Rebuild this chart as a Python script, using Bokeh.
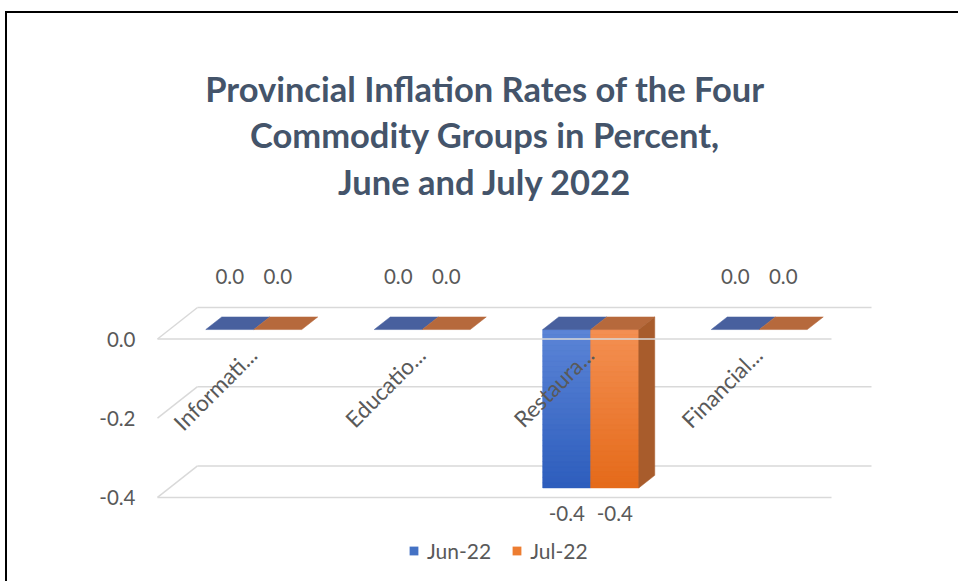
import numpy as np
from bokeh.plotting import figure
from bokeh.models import (Range1d, FixedTicker, PrintfTickFormatter, Legend,
                          LegendItem)
from bokeh.core.properties import value
from bokeh.embed import file_html
from bokeh.resources import INLINE

# ---------------- data ----------------
categories = ["Informati...", "Educatio...", "Restaura...", "Financial..."]
series_names = ["Jun-22", "Jul-22"]
jun22 = [0.0, 0.0, -0.4, 0.0]
jul22 = [0.0, 0.0, -0.4, 0.0]
y_ticks = [0.0, -0.2, -0.4]
title_lines = ["Provincial Inflation Rates of the Four",
               "Commodity Groups in Percent,",
               "June and July 2022"]

# ---------------- layout constants (pixels) ----------------
BORDER_X, BORDER_Y = 5, 11   # page position of outer border
OX, OY = BORDER_X + 2, BORDER_Y + 2   # page position of canvas
W, H = 953, 570
FRAME_LEFT = 149           # page x of plot frame
X0_PAGE, CAT_PX = 157.0, 168.5
Y0_PAGE, UNIT_PX = 338.5, 396.0
WALL_DX, WALL_DY = 40.0, 31.5
BAR_D0, BAR_D1 = 0.3, 0.7
BAR_PX = 48.0

FONT = "Lato"
TXT = "#595959"
GRID = "#D9D9D9"
LBL = "20.5px"


def X(px):
    return (px - X0_PAGE) / CAT_PX


def Y(py):
    return (Y0_PAGE - py) / UNIT_PX


ddx = WALL_DX / CAT_PX
ddy = WALL_DY / UNIT_PX
bw = BAR_PX / CAT_PX


def sh(x, y, d):
    return x + d * ddx, y + d * ddy


p = figure(width=W, height=H, output_backend="svg", toolbar_location=None,
           title=None, x_axis_location=None,
           x_range=Range1d(X(FRAME_LEFT), X(OX + W)),
           y_range=Range1d(Y(OY + H), Y(OY)),
           min_border_left=FRAME_LEFT - OX, min_border_right=0,
           min_border_top=0, min_border_bottom=0,
           background_fill_color="white", border_fill_color="white")
p.outline_line_color = None
p.xgrid.visible = False
p.ygrid.visible = False
p.styles = {"border-left": "2px solid #000", "border-top": "2px solid #000",
            "margin-left": "%dpx" % BORDER_X, "margin-top": "%dpx" % BORDER_Y}

ax = p.yaxis[0]
ax.ticker = FixedTicker(ticks=y_ticks)
ax.formatter = PrintfTickFormatter(format="%.1f")
ax.axis_line_color = None
ax.major_tick_line_color = None
ax.minor_tick_line_color = None
ax.major_tick_in = 0
ax.major_tick_out = 0
ax.major_label_standoff = 14
ax.major_label_text_font = FONT
ax.major_label_text_font_size = LBL
ax.major_label_text_color = TXT

n = len(categories)
tmin = min(y_ticks)

# ---------- back wall & side wall grid ----------
bx0, by0, bx1, by1 = [], [], [], []
for t in y_ticks:
    a = sh(0, t, 1); b = sh(n, t, 1)
    bx0.append(a[0]); by0.append(a[1]); bx1.append(b[0]); by1.append(b[1])
    a = sh(0, t, 0); b = sh(0, t, 1)
    bx0.append(a[0]); by0.append(a[1]); bx1.append(b[0]); by1.append(b[1])
p.segment(bx0, by0, bx1, by1, line_color=GRID, line_width=1.5)

# ---------- bars ----------
front_cols = [("#4472C4", "#5B84D6", "#2E5EBD"), ("#ED7D31", "#F38F52", "#E56B1B")]
top_cols = ["#48609E", "#B6693C"]
side_cols = ("#A85C2C", "#8C4312")

legend_renderers = []
for s, vals in enumerate([jun22, jul22]):
    lefts, rights, tops, bottoms = [], [], [], []
    for i, v in enumerate(vals):
        c = i + 0.5
        x0 = c - bw if s == 0 else c
        x1 = x0 + bw
        top, bot = max(v, 0), min(v, 0)
        lefts.append(sh(x0, 0, BAR_D0)[0]); rights.append(sh(x1, 0, BAR_D0)[0])
        tops.append(sh(0, top, BAR_D0)[1]); bottoms.append(sh(0, bot, BAR_D0)[1])
    r = p.quad(left=lefts, right=rights, top=tops, bottom=bottoms,
               fill_color=front_cols[s][0], line_color=None)
    legend_renderers.append(r)

    # vertical gradient slices
    base, c_top, c_bot = front_cols[s]
    ct = np.array([int(c_top[k:k + 2], 16) for k in (1, 3, 5)])
    cb = np.array([int(c_bot[k:k + 2], 16) for k in (1, 3, 5)])
    gl, gr, gt, gb, gc = [], [], [], [], []
    N = 30
    for i in range(n):
        if tops[i] == bottoms[i]:
            continue
        edges = np.linspace(tops[i], bottoms[i], N + 1)
        for k in range(N):
            f = k / (N - 1)
            col = ct + (cb - ct) * f
            gl.append(lefts[i]); gr.append(rights[i])
            gt.append(edges[k]); gb.append(edges[k + 1])
            gc.append("#%02x%02x%02x" % tuple(int(round(q)) for q in col))
    if gl:
        p.quad(left=gl, right=gr, top=gt, bottom=gb, fill_color=gc,
               line_color=gc, line_width=0.5)

# top faces and side faces
txs, tys, tcs = [], [], []
sxs, sys_, scs = [], [], []
for s, vals in enumerate([jun22, jul22]):
    for i, v in enumerate(vals):
        c = i + 0.5
        x0 = c - bw if s == 0 else c
        x1 = x0 + bw
        top, bot = max(v, 0), min(v, 0)
        pts = [sh(x0, top, BAR_D0), sh(x1, top, BAR_D0),
               sh(x1, top, BAR_D1), sh(x0, top, BAR_D1)]
        txs.append([q[0] for q in pts]); tys.append([q[1] for q in pts])
        tcs.append(top_cols[s])
        if s == 1 and top != bot:
            pts = [sh(x1, top, BAR_D0), sh(x1, bot, BAR_D0),
                   sh(x1, bot, BAR_D1), sh(x1, top, BAR_D1)]
            sxs.append([q[0] for q in pts]); sys_.append([q[1] for q in pts])
            scs.append(side_cols[0])
p.patches(txs, tys, fill_color=tcs, line_color=tcs, line_width=0.5)
if sxs:
    p.patches(sxs, sys_, fill_color=scs, line_color=scs, line_width=0.5)

# ---------- front grid lines ----------
fx0, fy0, fx1, fy1 = [], [], [], []
for t in [0.0, tmin]:
    a = sh(0, t, 0); b = sh(n, t, 0)
    fx0.append(a[0]); fy0.append(a[1]); fx1.append(b[0]); fy1.append(b[1])
p.segment(fx0, fy0, fx1, fy1, line_color=GRID, line_width=1.5)

# ---------- value labels ----------
lx, ly, lt = [], [], []
for s, vals in enumerate([jun22, jul22]):
    for i, v in enumerate(vals):
        c = i + 0.5
        xc = c - bw / 2 if s == 0 else c + bw / 2
        xx, yy = sh(xc, max(v, 0) if v >= 0 else v, BAR_D0)
        if v >= 0:
            yy += 53 / UNIT_PX
        else:
            yy -= 25.5 / UNIT_PX
        lx.append(xx); ly.append(yy); lt.append("%.1f" % v)
p.text(lx, ly, text=lt, text_align="center", text_baseline="middle",
       text_font=value(FONT), text_font_size=LBL, text_color=TXT)

# ---------- category labels ----------
cx = [i + 0.5 + 11 / CAT_PX for i in range(n)]
cy = [0.0 - 12 / UNIT_PX] * n
p.text(cx, cy, text=categories, angle=np.pi / 4, text_align="right",
       text_baseline="middle", text_font=value(FONT), text_font_size="22.5px",
       text_color=TXT)

# ---------- title ----------
p.text([X(484.5)] * 3, [Y(88), Y(134), Y(181)], text=title_lines,
       text_align="center", text_baseline="middle", text_font=value(FONT),
       text_font_style="bold", text_font_size="34.5px", text_color="#44546A")

# ---------- legend ----------
legend = Legend(items=[LegendItem(label=series_names[k], renderers=[legend_renderers[k]])
                       for k in range(2)],
                orientation="horizontal", location=(259, 20),
                border_line_color=None, background_fill_alpha=0,
                glyph_width=11, glyph_height=11, label_standoff=8, spacing=20,
                padding=0, margin=0, label_text_font=FONT,
                label_text_font_size="21px", label_text_color=TXT)
p.add_layout(legend)

open("out.html", "w").write(file_html(p, INLINE))
